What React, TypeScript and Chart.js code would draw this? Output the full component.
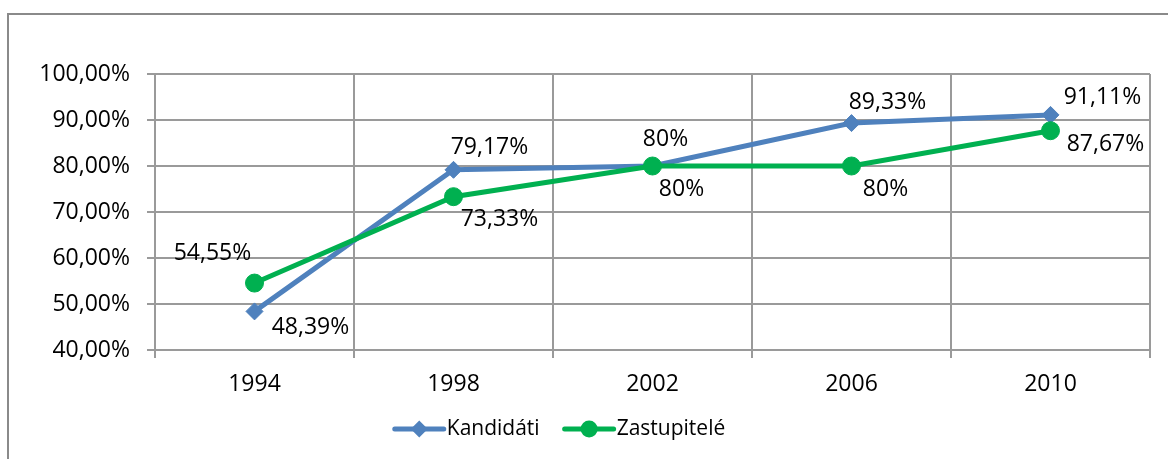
import React, { useEffect, useRef } from "react";
import { Chart, registerables } from "chart.js";

Chart.register(...registerables);

const years = ["1994", "1998", "2002", "2006", "2010"];
const kandidati = [48.39, 79.17, 80, 89.33, 91.11];
const zastupitele = [54.55, 73.33, 80, 80, 87.67];
const yMin = 40;
const yMax = 100;
const yStep = 10;
const seriesNames = ["Kandidáti", "Zastupitelé"];

// label placement (offset of label centre from the point, in px)
const kandLabelOffsets = [[56, 16], [36, -22], [13, -27], [36, -21], [52, -17]];
const zastLabelOffsets = [[-42, -30], [46, 23], [29, 23], [34, 23], [55, 14]];

const BLUE = "#4F81BD";
const GREEN = "#00B050";
const GRID = "#9a9a9a";
const FONT_FAMILY = '"Open Sans", "Noto Sans", sans-serif';
const FONT_SIZE = 23;
const LEGEND_FONT_SIZE = 21;

const fmtPct = (v: number) =>
  Number.isInteger(v) ? `${v}%` : `${v.toFixed(2).replace(".", ",")}%`;

const framePlugin = {
  id: "frame",
  beforeDraw(chart: any) {
    const ctx = chart.ctx;
    ctx.save();
    ctx.fillStyle = "#ffffff";
    ctx.fillRect(0, 0, chart.width, chart.height);
    ctx.strokeStyle = "#8a8a8a";
    ctx.lineWidth = 2;
    ctx.strokeRect(8, 14, chart.width + 40, chart.height + 40);
    ctx.restore();
  },
};

const labelPlugin = {
  id: "pointLabels",
  afterDatasetsDraw(chart: any) {
    const ctx = chart.ctx;
    ctx.save();
    ctx.font = `${FONT_SIZE}px ${FONT_FAMILY}`;
    ctx.fillStyle = "#000";
    ctx.textAlign = "center";
    ctx.textBaseline = "middle";
    chart.data.datasets.forEach((ds: any, i: number) => {
      const meta = chart.getDatasetMeta(i);
      meta.data.forEach((pt: any, j: number) => {
        const off = ds.labelOffsets[j];
        ctx.fillText(fmtPct(ds.data[j]), pt.x + off[0], pt.y + off[1]);
      });
    });
    ctx.restore();
  },
};

const legendPlugin = {
  id: "lineLegend",
  afterDraw(chart: any) {
    const ctx = chart.ctx;
    ctx.save();
    ctx.font = `${LEGEND_FONT_SIZE}px ${FONT_FAMILY}`;
    const lineW = 49;
    const gapText = 3;
    const gapItem = 25;
    const items = chart.data.datasets.map((ds: any) => ({
      ds,
      w: ctx.measureText(ds.label).width,
    }));
    items.sort((a: any, b: any) => a.ds.legendIndex - b.ds.legendIndex);
    const total =
      items.reduce((s: number, it: any) => s + lineW + gapText + it.w, 0) +
      gapItem * (items.length - 1);
    let x = 560 - total / 2;
    const y = 429;
    items.forEach((it: any) => {
      const ds = it.ds;
      ctx.strokeStyle = ds.borderColor;
      ctx.lineWidth = 5;
      ctx.lineCap = "round";
      ctx.beginPath();
      ctx.moveTo(x, y);
      ctx.lineTo(x + lineW, y);
      ctx.stroke();
      ctx.fillStyle = ds.borderColor;
      const cx = x + lineW / 2;
      ctx.beginPath();
      if (ds.pointStyle === "rectRot") {
        const r = 8.5;
        ctx.moveTo(cx, y - r);
        ctx.lineTo(cx + r, y);
        ctx.lineTo(cx, y + r);
        ctx.lineTo(cx - r, y);
        ctx.closePath();
      } else {
        ctx.arc(cx, y, 8.5, 0, Math.PI * 2);
      }
      ctx.fill();
      ctx.fillStyle = "#000";
      ctx.textAlign = "left";
      ctx.textBaseline = "middle";
      ctx.fillText(ds.label, x + lineW + gapText, y);
      x += lineW + gapText + it.w + gapItem;
    });
    ctx.restore();
  },
};

export default function App() {
  const ref = useRef<HTMLCanvasElement | null>(null);

  useEffect(() => {
    document.body.style.margin = "0";
    const canvas = ref.current;
    if (!canvas) return;
    const font = { family: FONT_FAMILY, size: FONT_SIZE };
    const chart = new Chart(canvas, {
      type: "line",
      data: {
        labels: years,
        datasets: [
          {
            label: seriesNames[0],
            data: kandidati,
            borderColor: BLUE,
            backgroundColor: BLUE,
            borderWidth: 5,
            pointStyle: "rectRot",
            pointRadius: 8.5,
            pointBorderWidth: 1,
            pointBackgroundColor: BLUE,
            pointBorderColor: BLUE,
            tension: 0,
            order: 2,
            labelOffsets: kandLabelOffsets,
            legendIndex: 0,
          } as any,
          {
            label: seriesNames[1],
            data: zastupitele,
            borderColor: GREEN,
            backgroundColor: GREEN,
            borderWidth: 5,
            pointStyle: "circle",
            pointRadius: 9,
            pointBorderWidth: 1,
            pointBackgroundColor: GREEN,
            pointBorderColor: GREEN,
            tension: 0,
            order: 1,
            labelOffsets: zastLabelOffsets,
            legendIndex: 1,
          } as any,
        ],
      },
      options: {
        animation: false,
        responsive: false,
        maintainAspectRatio: false,
        layout: { padding: { left: 0, right: 18, top: 74, bottom: 59 } },
        plugins: {
          legend: { display: false },
          tooltip: { enabled: false },
        },
        scales: {
          x: {
            offset: true,
            grid: {
              offset: true,
              color: GRID,
              lineWidth: 2,
              tickLength: 8,
              drawTicks: true,
            },
            border: { color: GRID, width: 2 },
            ticks: { font, color: "#000", padding: 13, maxRotation: 0 },
            afterFit(s: any) {
              s.height = 50;
            },
          },
          y: {
            min: yMin,
            max: yMax,
            grid: { color: GRID, lineWidth: 2, tickLength: 8 },
            border: { color: GRID, width: 2 },
            ticks: {
              stepSize: yStep,
              font,
              color: "#000",
              padding: 17,
              callback: (v: any) => `${Number(v).toFixed(2).replace(".", ",")}%`,
            },
            afterFit(s: any) {
              s.width = 155;
            },
          },
        },
      },
      plugins: [framePlugin, labelPlugin, legendPlugin],
    });
    return () => chart.destroy();
  }, []);

  return (
    <canvas
      ref={ref}
      width={1168}
      height={459}
      style={{ display: "block", width: 1168, height: 459 }}
    />
  );
}
